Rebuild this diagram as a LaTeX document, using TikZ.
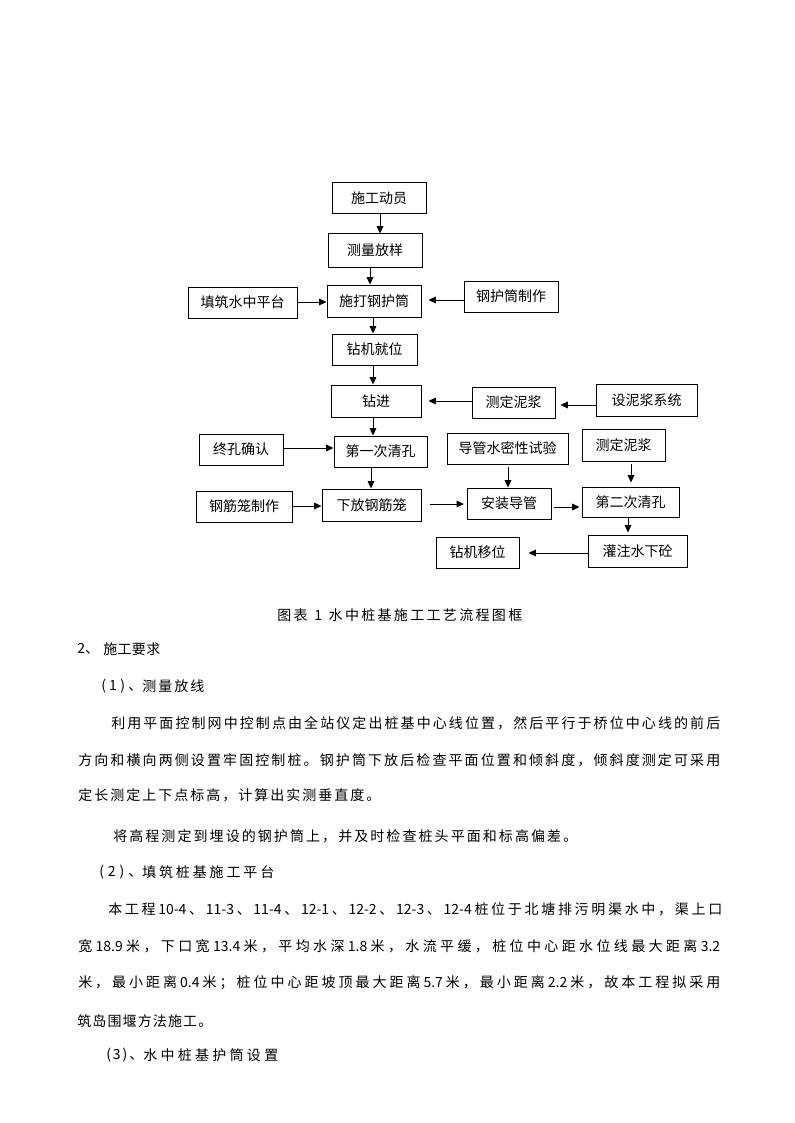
\documentclass[tikz,border=0pt]{standalone}
\usepackage{fontspec}
\setmainfont{Noto Sans CJK SC}
\usetikzlibrary{arrows.meta}
% character classes for inter-character spacing in the running text
\newcount\cjkcnt
\cjkcnt="4E00
\loop
\XeTeXcharclass\cjkcnt=1
\advance\cjkcnt by 1
\ifnum\cjkcnt<"A000 \repeat
\XeTeXcharclass"3001=3
\XeTeXcharclass"3002=3
\XeTeXcharclass"FF0C=3
\XeTeXcharclass"FF1B=3
\XeTeXcharclass"FF1A=3
\XeTeXcharclass"FF09=3
\XeTeXcharclass"FF08=2
\newskip\cjkglue
\cjkglue=0pt plus 1fil
\newcommand\cjkgap{\hskip\cjkglue}
\XeTeXinterchartoks 1 1 = {\cjkgap}
\XeTeXinterchartoks 1 2 = {\cjkgap}
\XeTeXinterchartoks 1 3 = {\cjkgap}
\XeTeXinterchartoks 2 1 = {\cjkgap}
\XeTeXinterchartoks 3 1 = {\cjkgap}
\XeTeXinterchartoks 3 2 = {\cjkgap}
\XeTeXinterchartoks 0 1 = {\cjkgap}
\XeTeXinterchartoks 1 0 = {\cjkgap}
\XeTeXinterchartoks 3 0 = {\cjkgap}
\XeTeXinterchartoks 0 3 = {\cjkgap}
\XeTeXinterchartoks 2 0 = {\cjkgap}
\XeTeXinterchartokenstate=0
\newdimen\pu
\pu=0.75pt
\newcommand\bodyfont{\fontsize{10.5pt}{12pt}\selectfont\XeTeXinterchartokenstate=1\relax}
\newcommand\boxfont{\fontsize{10.5pt}{12pt}\selectfont}
\newcommand\spread[2]{\makebox[#1\pu][s]{#2}}
\begin{document}
\begin{tikzpicture}[x=0.75pt,y=-0.75pt,
  bx/.style 2 args={draw=black, line width=0.75pt, inner sep=0pt,
    minimum width=#1*0.75pt, minimum height=#2*0.75pt, font=\boxfont},
  arr/.style={-{Triangle[length=5.5pt,width=5pt]}, line width=0.75pt},
  txt/.style={anchor=west, inner sep=0pt, font=\bodyfont}]
\useasboundingbox (0,0) rectangle (794,1123);
\fill[white] (0,0) rectangle (794,1123);
% flowchart boxes
\node[bx={94}{31}] (a) at (379,198.5) {施工动员};
\node[bx={94}{33}] (b) at (375,250.5) {测量放样};
\node[bx={94}{32}] (c) at (374,301) {施打钢护筒};
\node[bx={109}{31}] (d) at (242.5,302.5) {填筑水中平台};
\node[bx={94}{31}] (e) at (511,296.5) {钢护筒制作};
\node[bx={85}{31}] (f) at (374.5,349.5) {钻机就位};
\node[bx={90}{32}] (g) at (376,401) {钻进};
\node[bx={83}{31}] (h) at (513.5,402.5) {测定泥浆};
\node[bx={101}{32}] (i) at (646.5,400) {设泥浆系统};
\node[bx={84}{31}] (j) at (241,449.5) {终孔确认};
\node[bx={93}{31}] (k) at (380.5,451.5) {第一次清孔};
\node[bx={121}{31}] (l) at (507.5,448.5) {导管水密性试验};
\node[bx={83}{32}] (m) at (623.5,445) {测定泥浆};
\node[bx={96}{31}] (n) at (244,506.5) {钢筋笼制作};
\node[bx={99}{32}] (o) at (371.5,505) {下放钢筋笼};
\node[bx={84}{31}] (p) at (509,503.5) {安装导管};
\node[bx={97}{30}] (q) at (630.5,502) {第二次清孔};
\node[bx={83}{31}] (r) at (477.5,552.5) {钻机移位};
\node[bx={99}{32}] (s) at (637.5,551) {灌注水下砼};
% connectors
\draw[arr] (a.south -| 380,0) -- (b.north -| 380,0);
\draw[arr] (b.south -| 370,0) -- (c.north -| 370,0);
\draw[arr] (d.east |- 0,302) -- (c.west |- 0,302);
\draw[arr,shorten >=5.25pt] (e.west |- 0,300) -- (c.east |- 0,300);
\draw[arr] (c.south -| 373,0) -- (f.north -| 373,0);
\draw[arr] (f.south -| 373,0) -- (g.north -| 373,0);
\draw[arr,shorten >=5.25pt] (h.west |- 0,401) -- (g.east |- 0,401);
\draw[arr,shorten >=3.75pt] (i.west |- 0,405) -- (h.east |- 0,405);
\draw[arr] (g.south -| 373,0) -- (k.north -| 373,0);
\draw[arr] (j.east |- 0,448) -- (k.west |- 0,448);
\draw[arr] (k.south -| 371,0) -- (o.north -| 371,0);
\draw[arr] (n.east |- 0,506) -- (o.west |- 0,506);
\draw[arr,shorten <=6pt,shorten >=2pt] (o.east |- 0,504) -- (p.west |- 0,504);
\draw[arr,shorten <=1.5pt] (l.south -| 508,0) -- (p.north -| 508,0);
\draw[arr,shorten <=2pt,shorten >=1.5pt] (p.east |- 0,507) -- (q.west |- 0,507);
\draw[arr,shorten <=2pt,shorten >=3pt] (m.south -| 631,0) -- (q.north -| 631,0);
\draw[arr,shorten >=1.5pt] (q.south -| 628,0) -- (s.north -| 628,0);
\draw[arr,shorten >=6.75pt] (s.west |- 0,553) -- (r.east |- 0,553);
% caption and running text
\node[txt] (cap) at (277,615) {\spread{245}{图表\hspace{5pt}1\hspace{5pt}水中桩基施工工艺流程图框}};
\node[txt] (h2n) at (77,649) {2、};
\node[txt] (h2) at (103,649) {\spread{57}{施工要求}};
\node[txt] (h21n) at (101,686) {\spread{41}{(\hfil 1\hfil )、}};
\node[txt] (h21) at (142,686) {\spread{62}{测量放线}};
\node[txt] (p1) at (111,723) {\spread{609}{利用平面控制网中控制点由全站仪定出桩基中心线位置，然后平行于桥位中心线的前后}};
\node[txt] (p2) at (78,760) {\spread{642}{方向和横向两侧设置牢固控制桩。钢护筒下放后检查平面位置和倾斜度，倾斜度测定可采用}};
\node[txt] (p3) at (78,795) {\spread{302}{定长测定上下点标高，计算出实测垂直度。}};
\node[txt] (p4) at (113,836) {\spread{464}{将高程测定到埋设的钢护筒上，并及时检查桩头平面和标高偏差。}};
\node[txt] (h22n) at (99,872) {\spread{43}{(\hfil 2\hfil )、}};
\node[txt] (h22) at (142,872) {\spread{132}{填筑桩基施工平台}};
\node[txt] (p5) at (108,909) {\spread{614}{本工程10-4、11-3、11-4、12-1、12-2、12-3、12-4桩位于北塘排污明渠水中，渠上口}};
\node[txt] (p6) at (78,946) {\spread{642}{宽18.9米，下口宽13.4米，平均水深1.8米，水流平缓，桩位中心距水位线最大距离3.2}};
\node[txt] (p7) at (78,983) {\spread{642}{米，最小距离0.4米；桩位中心距坡顶最大距离5.7米，最小距离2.2米，故本工程拟采用}};
\node[txt] (p8) at (77,1021) {\spread{135}{筑岛围堰方法施工。}};
\node[txt] (h23n) at (106,1055) {\spread{37}{(\hfil 3\hfil )、}};
\node[txt] (h23) at (143,1055) {\spread{135}{水中桩基护筒设置}};
\end{tikzpicture}
\end{document}
